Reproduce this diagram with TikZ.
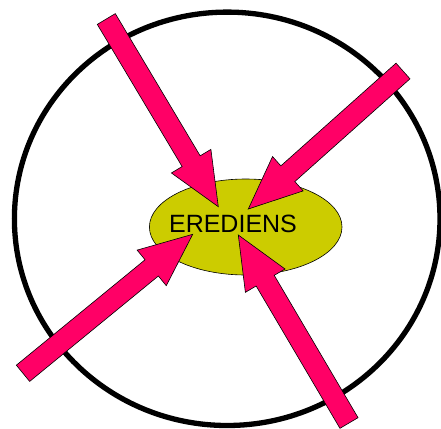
\documentclass[tikz,border=0pt]{standalone}
\usepackage{fontspec}
\setmainfont{Liberation Sans}
\usepackage{tikz}
\usetikzlibrary{calc,shapes.geometric}

\definecolor{arrowpink}{RGB}{255,0,102}
\definecolor{coreolive}{RGB}{204,204,0}

% block arrow from tail #1 to tip #2
\newcommand{\blockarrow}[2]{%
  \coordinate (#1-base) at ($(#2)!53pt!(#1)$);
  \filldraw[inarrow] ($(#1)!10.5pt!90:(#2)$) -- ($(#1-base)!10.5pt!-90:(#1)$)
    -- ($(#1-base)!23pt!-90:(#1)$) -- (#2) -- ($(#1-base)!23pt!90:(#1)$)
    -- ($(#1-base)!10.5pt!90:(#1)$) -- ($(#1)!10.5pt!-90:(#2)$) -- cycle;
}

\begin{document}
\begin{tikzpicture}[
  x=1pt, y=-1pt,
  ring/.style={draw=black, line width=5.3pt},
  core/.style={ellipse, draw=black, line width=0.6pt, fill=coreolive, minimum width=192.6pt, minimum height=96pt, inner sep=0pt},
  coretext/.style={font=\fontsize{25}{30}\selectfont, inner sep=0pt},
  inarrow/.style={fill=arrowpink, draw=black, line width=0.6pt, line join=miter}
]
\useasboundingbox (0,0) rectangle (441,428);

\draw[ring] (227.2,218.8) ellipse [x radius=212.8pt, y radius=206.7pt];

\node[core] (erediens) at (245.7,227) {};

% tails outside, tips in the ellipse
\coordinate (tailnw) at (106.3,19);
\coordinate (tipnw) at (218.3,206.7);
\coordinate (tailne) at (403,71);
\coordinate (tipne) at (248.3,209);
\coordinate (tailsw) at (23,373.3);
\coordinate (tipsw) at (192.7,234.3);
\coordinate (tailse) at (349,423);
\coordinate (tipse) at (238.3,235);

\blockarrow{tailnw}{tipnw}
\blockarrow{tailne}{tipne}
\blockarrow{tailsw}{tipsw}
\blockarrow{tailse}{tipse}

\node[coretext] (eredienstext) at ([xshift=-12.7pt, yshift=3pt]erediens.center) {EREDIENS};
\end{tikzpicture}
\end{document}
